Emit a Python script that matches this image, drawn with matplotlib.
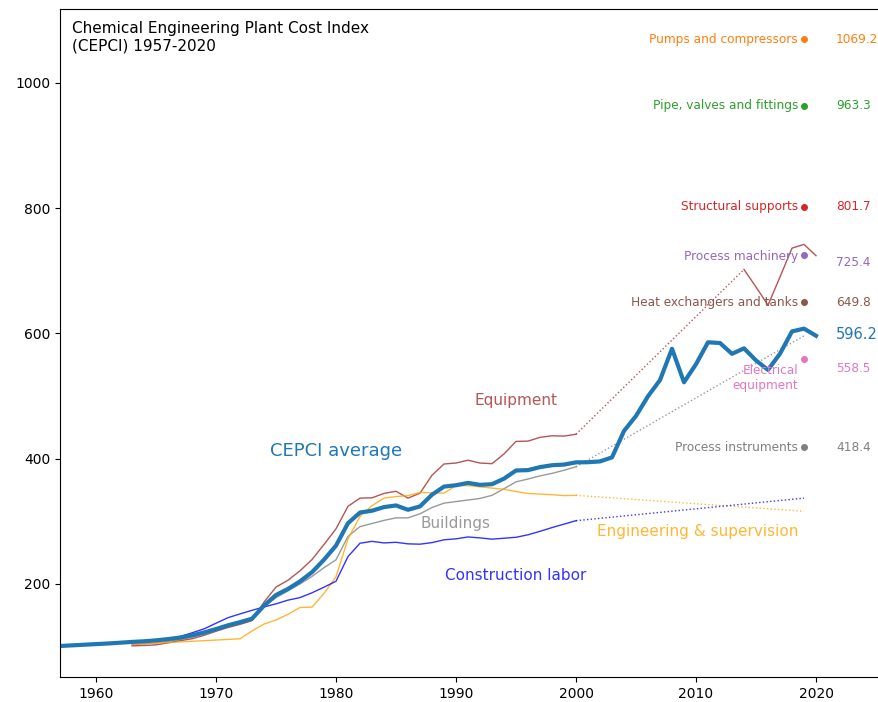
import matplotlib
matplotlib.use("Agg")
import matplotlib.pyplot as plt

# ---------------- data ----------------
cepci_years = list(range(1957, 2021))
cepci = [101.0, 102.0, 103.0, 104.0, 105.0, 106.2, 107.5, 108.5, 110.0, 112.0,
         114.5, 118.0, 122.5, 128.0, 134.0, 139.0, 144.5, 165.4, 182.4, 192.1,
         204.1, 218.8, 238.7, 261.2, 297.0, 314.0, 316.9, 322.7, 325.3, 318.4,
         323.8, 342.5, 355.4, 357.6, 361.3, 358.2, 359.2, 368.1, 381.1, 381.7,
         386.5, 389.5, 390.6, 394.1, 394.3, 395.6, 402.0, 444.2, 468.2, 499.6,
         525.4, 575.4, 521.9, 550.8, 585.7, 584.6, 567.3, 576.1, 556.8, 541.7,
         567.5, 603.1, 607.5, 596.2]

comp_years = list(range(1963, 2001))
equipment = [101.3, 101.8, 102.8, 106.0, 109.5, 112.5, 118.0, 124.5, 130.5, 135.5,
             141.5, 171.0, 195.0, 206.0, 221.0, 239.0, 263.0, 288.0, 324.0, 337.0,
             337.5, 344.5, 348.0, 337.0, 345.0, 373.5, 391.5, 393.0, 397.5, 393.0,
             392.0, 407.5, 427.5, 428.0, 434.0, 436.5, 436.0, 439.0]
equipment_recent_years = [2014, 2015, 2016, 2017, 2018, 2019, 2020]
equipment_recent = [702.0, 674.0, 645.0, 690.0, 736.0, 742.0, 724.0]

construction_labor = [107.7, 109.0, 110.5, 112.5, 116.0, 122.0, 128.3, 137.3, 146.2, 152.2,
                      157.9, 163.3, 168.3, 174.2, 178.2, 185.9, 194.9, 204.3, 243.8, 265.0,
                      268.0, 265.5, 266.5, 264.0, 263.5, 266.0, 270.5, 272.0, 275.0, 273.5,
                      271.5, 273.0, 274.5, 278.5, 284.0, 290.0, 295.5, 301.0]
buildings = [103.5, 104.5, 106.0, 108.5, 111.0, 115.0, 120.0, 126.5, 133.0, 139.0,
             145.5, 164.0, 178.0, 189.0, 200.0, 212.0, 226.0, 238.5, 276.0, 291.5,
             296.5, 301.5, 305.5, 305.5, 312.0, 322.0, 329.0, 331.5, 334.0, 336.5,
             341.5, 352.0, 363.0, 367.5, 372.5, 376.5, 381.5, 387.0]
eng_supervision = [103.5, 104.5, 105.5, 106.5, 107.5, 108.5, 109.5, 110.5, 111.5, 112.5,
                   125.0, 136.0, 142.5, 151.5, 162.5, 163.0, 185.0, 211.5, 272.0, 308.0,
                   325.0, 337.0, 339.5, 341.0, 346.0, 345.5, 345.0, 357.0, 357.0, 355.0,
                   353.0, 351.0, 347.5, 344.5, 343.5, 342.5, 341.0, 341.5]

latest_year = 2019
construction_labor_2019 = 337.0
buildings_2019 = 596.0
eng_supervision_2019 = 316.0

sub_names = ["Pumps and compressors", "Pipe, valves and fittings", "Structural supports",
             "Process machinery", "Heat exchangers and tanks", "Electrical\nequipment",
             "Process instruments"]
sub_values = [1069.2, 963.3, 801.7, 725.4, 649.8, 558.5, 418.4]
sub_colors = ["C1", "C2", "C3", "C4", "C5", "C6", "C7"]
# vertical placement tweaks for labels (data units) to avoid overlaps
name_shift = [0, 0, 0, -2, 0, -30, 0]
value_shift = [0, 0, 0, -13, 0, -14, 0]

# ---------------- plot ----------------
fig = plt.figure(figsize=(8.79, 7.02), dpi=100)
ax = fig.add_axes([60 / 879, 25 / 702, 840 / 879, 668 / 702])
ax.spines["right"].set_visible(False)

red = "brown"
a = 0.8

def last(lst):
    return lst[-1]

ax.plot(comp_years, equipment, color=red, lw=1, alpha=a)
ax.plot([comp_years[-1], equipment_recent_years[0]], [last(equipment), equipment_recent[0]],
        color=red, lw=1, ls=":", alpha=a)
ax.plot(equipment_recent_years, equipment_recent, color=red, lw=1, alpha=a)

ax.plot(comp_years, buildings, color="grey", lw=1, alpha=a)
ax.plot([comp_years[-1], latest_year], [last(buildings), buildings_2019],
        color="grey", lw=1, ls=":", alpha=a)

ax.plot(comp_years, eng_supervision, color="orange", lw=1, alpha=a)
ax.plot([comp_years[-1], latest_year], [last(eng_supervision), eng_supervision_2019],
        color="orange", lw=1, ls=":", alpha=a)

ax.plot(comp_years, construction_labor, color="blue", lw=1, alpha=a)
ax.plot([comp_years[-1], latest_year], [last(construction_labor), construction_labor_2019],
        color="blue", lw=1, ls=":", alpha=a)

ax.plot(cepci_years, cepci, color="C0", lw=3)

for name, val, col, ns, vs in zip(sub_names, sub_values, sub_colors, name_shift, value_shift):
    ax.plot([latest_year], [val], "o", color=col, ms=4)
    ax.text(latest_year - 0.5, val + ns, name, color=col, fontsize=8.7,
            ha="right", va="center", multialignment="right")
    ax.text(latest_year + 2.67, val + vs, f"{val}", color=col, fontsize=8.7,
            ha="left", va="center")

ax.text(latest_year + 2.67, cepci[-1] + 2, f"{cepci[-1]}", color="C0", fontsize=10.5,
        ha="left", va="center")

ax.text(1980, 413, "CEPCI average", color="C0", fontsize=13, ha="center", va="center")
ax.text(1995, 493, "Equipment", color=red, alpha=a, fontsize=11, ha="center", va="center")
ax.text(1990, 297, "Buildings", color="grey", alpha=a, fontsize=11, ha="center", va="center")
ax.text(1995, 213, "Construction labor", color="blue", alpha=a, fontsize=11,
        ha="center", va="center")
ax.text(2010.1, 283, "Engineering & supervision", color="orange", alpha=a, fontsize=11,
        ha="center", va="center")

ax.annotate("Chemical Engineering Plant Cost Index\n(CEPCI) 1957-2020", xy=(0, 1),
            xycoords="axes fraction", xytext=(9, -9), textcoords="offset points",
            ha="left", va="top", fontsize=11)

ax.set_xlim(1957, 2027)
ax.set_ylim(51.5, 1117.7)
ax.set_xticks([1960, 1970, 1980, 1990, 2000, 2010, 2020])
ax.set_yticks([200, 400, 600, 800, 1000])

fig.savefig("out.png", dpi=100)
